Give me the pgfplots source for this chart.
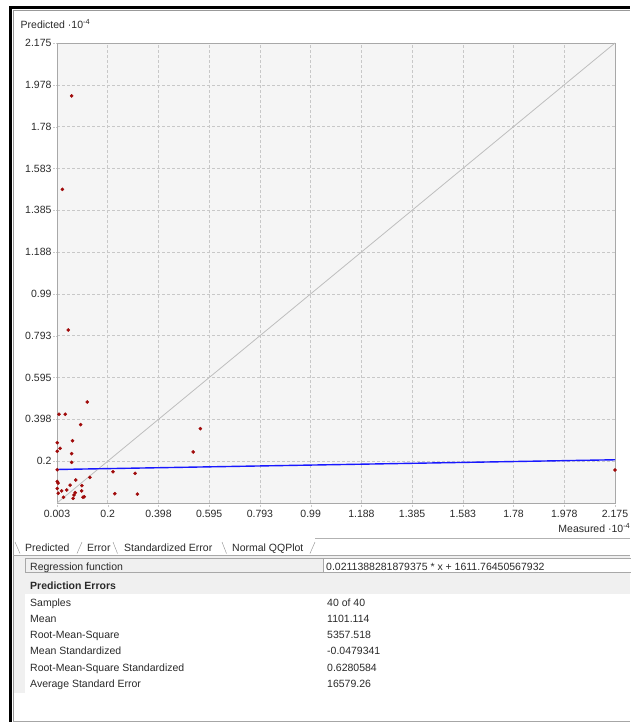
\documentclass[border=0pt]{standalone}
\usepackage{pgfplots}
\pgfplotsset{compat=1.18}
\usepackage{fontspec}
\setmainfont{Liberation Sans}

\definecolor{plotbg}{HTML}{F5F5F5}
\definecolor{gridc}{HTML}{C8C8C8}
\definecolor{framec}{HTML}{A8A8A8}
\definecolor{diagc}{HTML}{BEBEBE}
\definecolor{regblue}{HTML}{1818FF}
\definecolor{ptred}{HTML}{A00A0A}
\definecolor{panelgray}{HTML}{F0F0F0}
\definecolor{txt}{HTML}{2A2A2A}

% measured vs. predicted values (units of 10^4)
\pgfplotstableread{
x     y
0.121 0.480
0.011 0.422
0.035 0.422
0.095 0.373
0.561 0.354
0.004 0.288
0.063 0.297
0.015 0.261
0.004 0.247
0.060 0.236
0.533 0.244
0.060 0.195
0.004 0.160
0.221 0.151
0.307 0.143
0.131 0.124
0.076 0.112
0.004 0.105
0.007 0.097
0.054 0.087
0.100 0.085
0.004 0.071
0.041 0.064
0.021 0.060
0.099 0.060
0.008 0.049
0.074 0.052
0.228 0.047
0.316 0.045
0.069 0.041
0.028 0.030
0.109 0.033
0.104 0.030
0.066 0.025
0.060 1.925
0.024 1.484
0.047 0.820
2.175 0.159
}\samples

\newcommand\uifont{\fontsize{10.5}{12}\selectfont}

\begin{document}
\begin{tikzpicture}[x=1pt,y=1pt]
\useasboundingbox (0,0) rectangle (630,-722);
\fill[white] (0,0) rectangle (630,-722);

% window frame
\draw[black, line width=2.7pt] (10.6,-722) -- (10.6,-7.3) -- (630,-7.3);
\draw[black!40, line width=0.8pt] (13.3,-722) -- (13.3,-10.2) -- (630,-10.2);

% chart title
\node[anchor=base west, inner sep=0, text=txt, font=\uifont] at (20.5,-28.7)
  {Predicted ·10\textsuperscript{-4}};

\begin{axis}[
  at={(57pt,-503pt)}, anchor=south west,
  scale only axis, width=558pt, height=460pt,
  xmin=0.003, xmax=2.175, ymin=0.003, ymax=2.175,
  axis background/.style={fill=plotbg},
  axis line style={framec},
  xtick={0.003,0.2005,0.398,0.5954,0.7929,0.9903,1.1878,1.3852,1.5827,1.7801,1.9776,2.175},
  xticklabels={0.003,0.2,0.398,0.595,0.793,0.99,1.188,1.385,1.583,1.78,1.978,2.175},
  ytick={0.2005,0.398,0.5954,0.7929,0.9903,1.1878,1.3852,1.5827,1.7801,1.9776,2.175},
  yticklabels={0.2,0.398,0.595,0.793,0.99,1.188,1.385,1.583,1.78,1.978,2.175},
  xtick pos=bottom, ytick pos=left,
  tick align=outside, major tick length=4pt,
  tick style={gridc, dash pattern=on 2pt off 1pt},
  grid=major,
  major grid style={gridc, dash pattern=on 3pt off 2pt, line width=0.6pt},
  /pgf/number format/assume math mode=true,
  tick label style={font=\uifont, text=txt},
  yticklabel style={xshift=2pt},
]
  % identity line
  \addplot[diagc, line width=0.8pt] coordinates {(0.003,0.003) (2.175,2.175)};
  % regression line: 0.0211388281879375 * x + 1611.76450567932
  \addplot[regblue, line width=1.4pt] coordinates {(0.003,0.16124) (2.175,0.20715)};
  \addplot[only marks, mark=*, mark size=1.6pt, ptred, mark options={draw=ptred, fill=ptred}]
    table[x=x, y=y] {\samples};
\end{axis}

\node[anchor=base east, inner sep=0, text=txt, font=\uifont] at (630.5,-532.3)
  {Measured ·10\textsuperscript{-4}};

% tab strip
\draw[black!30] (315,-538.5) -- (630,-538.5);
\draw[framec] (13.3,-555.5) -- (630,-555.5);
\draw[black!45] (15,-542) -- (20,-553.5);
\draw[black!45] (82,-542) -- (77,-553.5);
\draw[black!45] (113,-542) -- (117.5,-553.5);
\draw[black!45] (222,-542) -- (226.5,-553.5);
\draw[black!45] (315,-542) -- (310,-553.5);
\begin{scope}[every node/.style={anchor=base west, inner sep=0, text=txt, font=\uifont}]
  \node at (25,-551) {Predicted};
  \node at (87,-551) {Error};
  \node at (124,-551) {Standardized Error};
  \node at (232,-551) {Normal QQPlot};
\end{scope}

% results table
\fill[panelgray] (13.8,-556) rectangle (630,-594);
\fill[panelgray] (13.8,-556) rectangle (25,-693);
\draw[framec, fill=panelgray] (25,-558.5) rectangle (323,-572.5);
\draw[framec, fill=white] (323,-558.5) rectangle (632,-572.5);
\draw[black!35] (13.3,-720.8) -- (630,-720.8);

\begin{scope}[every node/.style={anchor=base west, inner sep=0, text=txt, font=\uifont}]
  \node at (30,-570) {Regression function};
  \node at (326,-570) {0.0211388281879375 * x + 1611.76450567932};
  \node[font=\uifont\bfseries] at (30,-589) {Prediction Errors};
  \node at (30,-606)   {Samples};                      \node at (327,-606)   {40 of 40};
  \node at (30,-622.3) {Mean};                         \node at (327,-622.3) {1101.114};
  \node at (30,-638.6) {Root-Mean-Square};             \node at (327,-638.6) {5357.518};
  \node at (30,-654.9) {Mean Standardized};            \node at (327,-654.9) {-0.0479341};
  \node at (30,-671.2) {Root-Mean-Square Standardized};\node at (327,-671.2) {0.6280584};
  \node at (30,-687.5) {Average Standard Error};       \node at (327,-687.5) {16579.26};
\end{scope}
\end{tikzpicture}
\end{document}
